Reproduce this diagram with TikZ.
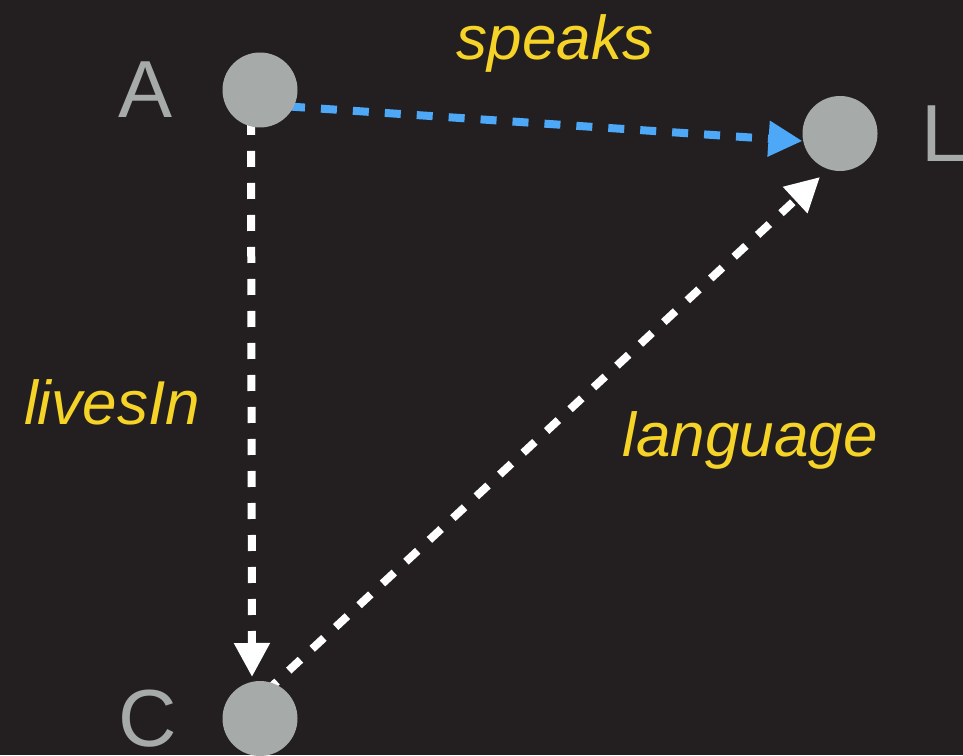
\documentclass[tikz,border=0pt]{standalone}
\usepackage{fontspec}
\setmainfont{Liberation Sans}
\usepackage{xcolor}
\usepackage{tikz}
\usetikzlibrary{positioning,arrows.meta}

\definecolor{boardbg}{HTML}{231F20}
\definecolor{dotgray}{HTML}{A6AAA9}
\definecolor{relyellow}{HTML}{F5D327}
\definecolor{speakblue}{HTML}{4DA8F8}

\pgfdeclarelayer{links}
\pgfsetlayers{links,main}

\begin{document}
\begin{tikzpicture}[x=1pt,y=1pt,>={Triangle[length=34pt,width=34pt]}]

  % styles
  \tikzstyle{world}=[circle,fill=dotgray,minimum size=75pt,inner sep=0pt,outer sep=0pt]
  \tikzstyle{tag}=[text=dotgray,font=\fontsize{81}{90}\selectfont,inner sep=0pt,outer sep=0pt]
  \tikzstyle{rel}=[text=relyellow,font=\fontsize{62}{70}\selectfont\itshape,inner sep=0pt,anchor=base]
  \tikzstyle{link}=[->,line width=8pt,dash pattern=on 16pt off 16pt]

  % dark board
  \useasboundingbox (0,0) rectangle (963,755);
  \begin{pgfonlayer}{links}
    \fill[boardbg] (0,0) rectangle (963,755);
  \end{pgfonlayer}

  % worlds
  \node[world] (A) at (260,665) {};
  \node[world] (L) at (840,621.5) {};
  \node[world] (C) at (260,36.5) {};

  % names
  \node[tag,left=49.5pt of A] (tagA) {A};
  \node[tag,right=43.5pt of L] (tagL) {L};
  \node[tag,left=46pt of C] (tagC) {C};

  % relations
  \begin{pgfonlayer}{links}
    \draw[link,speakblue] ([shift={(29pt,-16.5pt)}]A.center) -- ([yshift=-7.5pt]L.west);
    \draw[link,white] ([shift={(-9pt,-29pt)}]A.center) -- ([shift={(-8pt,4pt)}]C.north);
    \draw[link,white,dash phase=6pt] ([shift={(9.7pt,30.2pt)}]C.center) -- ([shift={(-20pt,-43.5pt)}]L.center);
  \end{pgfonlayer}

  % relation names
  \node[rel] (speaks) at (555,695) {speaks};
  \node[rel] (livesIn) at (112,330) {livesIn};
  \node[rel] (language) at (750,298) {language};

\end{tikzpicture}
\end{document}
